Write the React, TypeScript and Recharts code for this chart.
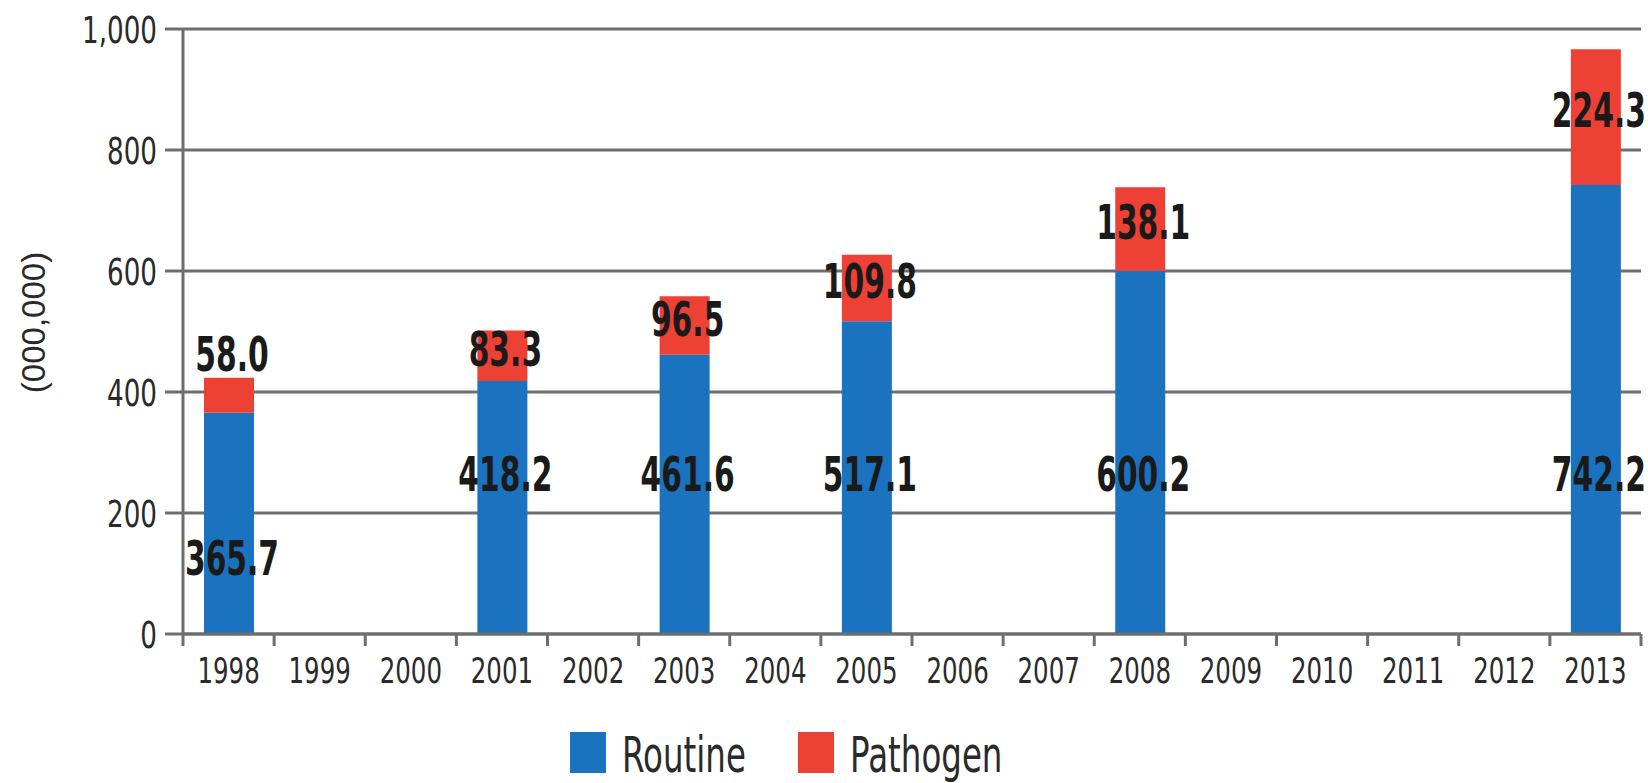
import { Bar, BarChart, CartesianGrid, LabelList, Legend, XAxis, YAxis } from 'recharts';

const years = ['1998', '1999', '2000', '2001', '2002', '2003', '2004', '2005', '2006', '2007', '2008', '2009', '2010', '2011', '2012', '2013'];
const routine = [365.7, null, null, 418.2, null, 461.6, null, 517.1, null, null, 600.2, null, null, null, null, 742.2];
const pathogen = [58.0, null, null, 83.3, null, 96.5, null, 109.8, null, null, 138.1, null, null, null, null, 224.3];
const yTicks = [0, 200, 400, 600, 800, 1000];
const seriesOrder = ['Routine', 'Pathogen'];

const data = years.map((year, i) => ({ year, routine: routine[i], pathogen: pathogen[i] }));

const BLUE = '#1b72be';
const RED = '#ee4136';
const GRID = '#6e6e6e';
const TEXT = '#2a2a2a';
const FONT = "'DejaVu Sans', sans-serif";

// no condensed face installed, so squeeze the glyphs horizontally
function Narrow({ x, y, s, anchor = 'middle', children, ...rest }: any) {
  return (
    <text transform={`translate(${x} ${y}) scale(${s} 1)`} textAnchor={anchor} fontFamily={FONT} {...rest}>
      {children}
    </text>
  );
}

// year labels sit in the band centre, tick marks on the band edges
function YearTick(props: any) {
  const { x, y, payload, index, visibleTicksCount } = props;
  const half = payload.offset ?? 45.5;
  const top = y - 12;
  const last = visibleTicksCount ? index === visibleTicksCount - 1 : payload.value === years[years.length - 1];
  return (
    <g>
      <line x1={x - half} x2={x - half} y1={top} y2={y} stroke={GRID} strokeWidth={3} />
      {last && <line x1={x + half} x2={x + half} y1={top} y2={y} stroke={GRID} strokeWidth={3} />}
      <Narrow x={x} y={y + 37} s={0.7} fontSize={35} fill={TEXT}>
        {payload.value}
      </Narrow>
    </g>
  );
}

function ValueTick(props: any) {
  const { x, y, payload } = props;
  return (
    <Narrow x={x} y={y} s={0.69} anchor="end" dy="0.36em" fontSize={38} fill={TEXT}>
      {Number(payload.value).toLocaleString('en-US')}
    </Narrow>
  );
}

function RoutineLabel(props: any) {
  const { value, index } = props;
  if (value == null) return null;
  const vb = props.viewBox ?? props;
  const bottom = vb.y + vb.height;
  // 1998 figure is placed lower in the original
  const cy = index === 0 ? bottom - 76 : bottom - 160;
  return (
    <Narrow x={vb.x + vb.width / 2 + 3} y={cy} s={0.62} dy="0.36em" fontWeight="bold" fontSize={48} fill="#1a1a1a">
      {Number(value).toFixed(1)}
    </Narrow>
  );
}

function PathogenLabel(props: any) {
  const { value } = props;
  if (value == null) return null;
  const vb = props.viewBox ?? props;
  // short segments get the label above the bar
  const cy = vb.height < 45 ? vb.y - 24 : vb.y + vb.height / 2 - 7;
  return (
    <Narrow x={vb.x + vb.width / 2 + 3} y={cy} s={0.62} dy="0.36em" fontWeight="bold" fontSize={48} fill="#1a1a1a">
      {Number(value).toFixed(1)}
    </Narrow>
  );
}

function LegendContent(props: any) {
  const items = [...(props.payload ?? [])].sort(
    (a: any, b: any) => seriesOrder.indexOf(a.value) - seriesOrder.indexOf(b.value)
  );
  return (
    <svg width={1648} height={60} style={{ display: 'block' }}>
      {items.map((item: any, i: number) => {
        const left = 570 + i * 228;
        return (
          <g key={item.value}>
            <rect x={left} y={9} width={36} height={41} fill={item.color} />
            <Narrow x={left + 52} y={49} s={0.65} anchor="start" fontSize={50} fill={TEXT}>
              {item.value}
            </Narrow>
          </g>
        );
      })}
    </svg>
  );
}

export default function App() {
  return (
    <div style={{ width: 1648, height: 783, background: '#fff' }}>
      <style>{'body{margin:0}'}</style>
      <BarChart width={1648} height={783} data={data} margin={{ top: 29, right: 7, left: 0, bottom: 0 }}>
        <CartesianGrid vertical={false} stroke={GRID} strokeWidth={3} />
        <XAxis
          dataKey="year"
          height={89}
          interval={0}
          tickSize={12}
          tickMargin={0}
          tickLine={false}
          axisLine={{ stroke: GRID, strokeWidth: 3 }}
          tick={<YearTick />}
        />
        <YAxis
          domain={[0, 1000]}
          ticks={yTicks}
          interval={0}
          width={183}
          tickSize={18}
          tickMargin={8}
          axisLine={{ stroke: GRID, strokeWidth: 3 }}
          tickLine={{ stroke: GRID, strokeWidth: 3 }}
          tick={<ValueTick />}
          label={{
            content: (p: any) => {
              const vb = p.viewBox;
              const cx = vb.x + 33;
              const cy = vb.y + vb.height / 2 - 9;
              return (
                <text x={cx} y={cy} transform={`rotate(-90 ${cx} ${cy})`} textAnchor="middle" dy="0.36em" fontFamily="'Liberation Sans', sans-serif" fontSize={33} fill={TEXT}>
                  (000,000)
                </text>
              );
            },
          }}
        />
        <Legend content={<LegendContent />} wrapperStyle={{ left: 0, width: 1648 }} />
        <Bar dataKey="routine" name="Routine" stackId="a" fill={BLUE} barSize={50} isAnimationActive={false}>
          <LabelList dataKey="routine" content={RoutineLabel} />
        </Bar>
        <Bar dataKey="pathogen" name="Pathogen" stackId="a" fill={RED} barSize={50} isAnimationActive={false}>
          <LabelList dataKey="pathogen" content={PathogenLabel} />
        </Bar>
      </BarChart>
    </div>
  );
}
